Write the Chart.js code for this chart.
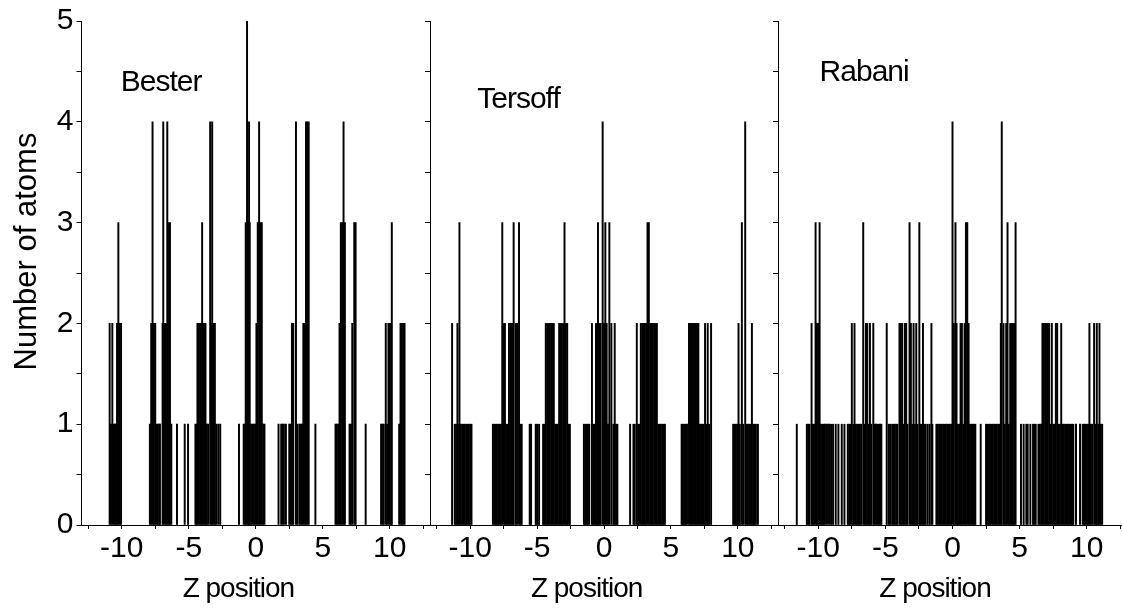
<!DOCTYPE html>
<html><head><meta charset="utf-8">
<script src="https://cdn.jsdelivr.net/npm/chart.js@4/dist/chart.umd.min.js"></script>
<style>
html,body{margin:0;padding:0;background:#fff;overflow:hidden;width:1122px;height:615px;}
canvas{position:absolute;top:0;}
</style></head><body>
<canvas id="c1"></canvas><canvas id="c2"></canvas><canvas id="c3"></canvas>
<script>
// ---- data (Z position bins, number of atoms) ----
const besterZ = [-10.9,-10.8,-10.7,-10.6,-10.5,-10.45,-10.35,-10.25,-10.15,-10.05,
 -7.9,-7.8,-7.7,-7.6,-7.5,-7.4,-7.3,-7.2,-7.15,-6.95,-6.9,-6.8,-6.7,-6.6,-6.5,-6.4,-6.3,
 -5.875,-5.3,-5.05,
 -4.5,-4.4,-4.35,-4.25,-4.15,-4.05,-4.0,-3.9,-3.8,-3.75,-3.65,-3.55,-3.4,-3.3,-3.25,-3.15,-3.05,-2.95,-2.8,-2.65,
 -1.25,-0.9,-0.8,-0.75,-0.65,-0.55,-0.5,-0.45,-0.35,-0.25,-0.15,-0.05,0.05,0.15,0.25,0.35,0.45,0.55,0.65,
 1.7,1.9,2.0,2.1,2.25,
 2.5,2.6,2.7,2.8,3.0,3.1,3.25,3.35,3.45,3.55,3.65,3.75,3.85,3.95,4.45,
 5.95,6.05,6.15,6.25,6.35,6.45,6.55,6.65,7.0,7.1,7.2,7.35,7.45,8.2,
 9.35,9.45,9.55,9.7,9.8,9.9,10.0,10.1,10.15,
 10.7,10.8,10.9,11.0,11.1];
const besterN = [2,1,2,1,1,1,2,3,2,2,
 1,2,4,2,2,1,1,1,1,2,4,2,2,4,3,3,1,
 1,1,1,
 1,1,2,2,2,2,3,2,2,2,1,1,4,2,4,2,2,1,1,1,
 1,1,1,3,5,3,4,3,1,1,1,1,2,3,4,3,3,1,1,
 1,1,1,1,1,
 1,1,2,2,4,1,1,1,1,2,2,4,4,4,1,
 1,1,1,2,3,3,4,3,1,1,2,3,3,1,
 1,1,1,2,1,2,2,2,3,
 1,2,2,2,2];

const tersoffZ = [-11.35,-11.15,-11.05,-10.95,-10.85,-10.8,-10.7,-10.6,-10.5,-10.4,-10.3,-10.2,-10.1,-10.0,-9.9,
 -8.3,-8.2,-8.1,-8.0,-7.9,-7.8,-7.7,-7.6,-7.5,-7.4,-7.3,-7.2,-7.1,-7.0,-6.9,-6.8,-6.75,-6.6,-6.5,-6.35,-6.25,-6.15,
 -5.55,-5.45,-5.1,-5.0,-4.85,
 -4.55,-4.45,-4.35,-4.25,-4.15,-4.05,-3.95,-3.85,-3.75,-3.65,-3.55,-3.45,-3.35,-3.25,-3.15,-3.05,-2.95,-2.85,-2.75,-2.65,-2.55,
 -1.5,-1.4,-1.3,-1.2,-1.1,-0.9,-0.8,-0.7,-0.6,-0.5,-0.45,-0.35,-0.25,-0.1,0.0,0.1,0.2,0.3,0.4,0.55,0.7,0.8,0.9,1.0,
 1.95,2.2,2.3,2.45,2.55,2.65,2.75,2.85,2.95,3.05,3.15,3.25,3.35,3.45,3.55,3.65,3.75,3.85,3.95,4.05,4.15,4.25,4.35,4.45,4.55,
 5.8,5.9,6.0,6.1,6.2,6.35,6.45,6.55,6.65,6.75,6.85,6.95,7.05,7.15,7.25,7.35,7.45,7.55,7.65,7.75,7.85,8.0,
 9.65,9.75,9.85,9.95,10.05,10.15,10.3,10.4,10.55,10.65,10.75,10.85,10.95,11.05,11.15,11.25,11.35,11.5];
const tersoffN = [2,1,1,2,1,3,1,1,1,1,1,1,1,1,1,
 1,1,1,1,1,1,1,3,2,2,1,1,2,2,2,2,3,2,2,3,1,1,
 1,1,1,1,1,
 1,1,2,2,2,2,2,2,2,1,1,1,2,2,2,2,3,2,2,1,1,
 1,1,1,1,1,2,1,1,2,2,3,2,2,4,2,3,2,1,3,2,1,2,1,1,
 1,1,1,2,1,1,2,2,2,2,2,3,3,2,2,2,2,2,2,1,1,1,1,1,1,
 1,1,1,1,1,2,2,2,2,2,2,2,2,1,1,1,1,2,1,2,1,2,
 1,1,1,1,2,1,3,1,4,1,1,1,1,2,1,1,1,1];

const rabaniZ = [-11.6,
 -10.85,-10.75,-10.65,-10.5,-10.4,-10.3,-10.2,-10.1,-10.0,-9.9,-9.8,-9.7,-9.6,-9.5,-9.35,-9.2,-9.05,-8.9,-8.7,-8.5,-8.25,-8.05,
 -7.8,-7.7,-7.6,-7.5,-7.4,-7.3,-7.2,-7.1,-7.0,-6.9,-6.8,-6.65,-6.55,-6.45,-6.35,-6.25,-6.15,-6.05,-5.9,-5.8,-5.7,-5.6,-5.5,-5.4,-5.3,
 -4.9,-4.75,-4.65,
 -4.5,-4.4,-4.3,-4.2,-4.1,-3.95,-3.85,-3.75,-3.65,-3.55,-3.45,-3.35,-3.2,-3.1,-3.0,-2.9,-2.8,-2.7,-2.6,-2.47,-2.4,-2.3,-2.2,-2.1,-2.0,-1.85,-1.7,-1.57,-1.5,
 -1.2,-1.1,-1.0,-0.9,-0.8,-0.7,-0.6,-0.5,-0.4,-0.3,-0.2,-0.1,0.0,0.1,0.22,0.3,0.4,0.5,0.6,0.7,0.8,0.9,1.0,1.1,1.2,1.3,1.4,1.5,1.6,1.7,
 2.1,
 2.5,2.6,2.7,2.8,2.9,3.0,3.1,3.2,3.3,3.4,3.5,3.6,3.67,3.8,3.9,4.0,4.1,4.2,4.3,4.4,4.5,4.6,4.7,
 5.1,5.3,5.5,5.6,5.8,6.0,6.1,6.2,6.4,6.5,6.6,6.7,6.8,6.9,7.0,7.1,7.2,7.3,7.4,7.5,7.6,7.7,7.8,7.9,8.0,8.1,8.2,8.3,8.4,8.5,8.6,8.7,8.8,8.9,9.0,9.2,9.5,
 9.7,9.8,9.9,10.0,10.1,10.2,10.3,10.4,10.55,10.65,10.75,10.85,10.95,11.05,11.15];
const rabaniN = [1,
 1,1,1,2,1,1,3,2,2,3,1,1,1,1,1,1,1,1,1,1,1,1,
 1,1,1,2,1,2,1,1,1,1,1,3,1,2,2,1,2,1,2,1,1,1,1,1,1,
 2,1,1,
 1,1,1,1,1,2,2,2,1,2,2,1,3,2,1,2,1,2,1,3,1,1,2,1,1,1,1,2,1,
 1,1,1,1,1,1,1,1,1,1,1,1,4,2,3,2,1,1,2,2,1,2,3,3,2,1,1,1,1,1,
 1,
 1,1,1,1,1,1,1,1,1,1,1,2,4,2,1,2,3,1,2,2,2,2,3,
 1,1,1,1,1,1,1,1,1,1,1,2,2,2,2,2,2,1,2,1,1,2,2,1,1,2,1,1,1,1,1,1,1,1,1,1,1,
 1,1,1,1,1,2,1,1,2,1,2,1,2,1,1];

const panelNames = ['Bester','Tersoff','Rabani'];
const xTickValues = [-12.5,-10,-7.5,-5,-2.5,0,2.5,5,7.5,10,12.5];
const xTickLabels = ['','-10','','-5','','0','','5','','10',''];
const yTickValues = [0,0.5,1,1.5,2,2.5,3,3.5,4,4.5,5];
const yTickLabels = ['0','','1','','2','','3','','4','','5'];
const xTitle = 'Z position';
const yTitle = 'Number of atoms';

// ---- layout / style ----
const FONT = "'Liberation Sans', Arial, Helvetica, sans-serif";
const CANVAS_H = 615, TOP = 20, XAXIS_H = 90;
const panels = [
  {id:'c1', left:0,   axisW:81.5, width:430, z:besterZ,  n:besterN,  name:panelNames[0], lx:-10.07, ly:4.31, yLabels:true},
  {id:'c2', left:420, axisW:10,   width:358, z:tersoffZ, n:tersoffN, name:panelNames[1], lx:-9.47,  ly:4.14, yLabels:false},
  {id:'c3', left:768, axisW:10,   width:359, z:rabaniZ,  n:rabaniN,  name:panelNames[2], lx:-9.9,   ly:4.40, yLabels:false}
];

const textPlugin = {
  id:'panelText',
  afterDraw(chart, args, o){
    const {ctx, scales} = chart;
    const xs = scales.x, ys = scales.y;
    ctx.save();
    ctx.fillStyle = '#000';
    if ('letterSpacing' in ctx) ctx.letterSpacing = '-1px';
    ctx.font = '30px ' + FONT;
    ctx.textAlign = 'left'; ctx.textBaseline = 'alphabetic';
    ctx.fillText(o.name, xs.getPixelForValue(o.lx), ys.getPixelForValue(o.ly));
    ctx.font = '28px ' + FONT;
    ctx.textAlign = 'center';
    ctx.fillText(xTitle, xs.getPixelForValue(-1.3), 597);
    if ('letterSpacing' in ctx) ctx.letterSpacing = '0px';
    if (o.yLabels){
      ctx.font = '31px ' + FONT;
      ctx.translate(36, 251.5);
      ctx.rotate(-Math.PI/2);
      ctx.textAlign = 'center'; ctx.textBaseline = 'alphabetic';
      ctx.fillText(yTitle, 0, 0);
    }
    ctx.restore();
  }
};

panels.forEach(p => {
  const cv = document.getElementById(p.id);
  cv.width = p.width; cv.height = CANVAS_H;
  cv.style.left = p.left + 'px';
  cv.style.width = p.width + 'px'; cv.style.height = CANVAS_H + 'px';
  const pts = p.z.map((z,i) => ({x:z, y:p.n[i]}));
  new Chart(cv, {
    type:'bar',
    data:{datasets:[{data:pts, backgroundColor:'#000', borderWidth:0, barThickness:1.3}]},
    options:{
      responsive:false, animation:false, devicePixelRatio:1,
      layout:{padding:{top:TOP, right:0, left:0, bottom:0}},
      plugins:{legend:{display:false}, tooltip:{enabled:false}, panelText:{name:p.name, lx:p.lx, ly:p.ly, yLabels:p.yLabels}},
      scales:{
        x:{type:'linear', min:-13, max:13, offset:false,
           afterBuildTicks(s){ s.ticks = xTickValues.map(v=>({value:v})); },
           afterFit(s){ s.height = XAXIS_H; },
           ticks:{autoSkip:false, maxRotation:0, padding:2, color:'#000', font:{family:FONT, size:30},
                  callback:(v,i)=> xTickLabels[i]},
           grid:{drawOnChartArea:false, drawTicks:true, tickLength:4, color:'#000', lineWidth:1, offset:false},
           border:{display:true, color:'#000', width:1}},
        y:{type:'linear', min:0, max:5,
           afterBuildTicks(s){ s.ticks = yTickValues.map(v=>({value:v})); },
           afterFit(s){ s.width = p.axisW; },
           ticks:{padding:3, color:'#000', font:{family:FONT, size:30},
                  callback:(v,i)=> p.yLabels ? yTickLabels[i] : ''},
           grid:{drawOnChartArea:false, drawTicks:true, tickLength:5, color:'#000', lineWidth:1},
           border:{display:true, color:'#000', width:1}}
      }
    },
    plugins:[textPlugin]
  });
});
</script>
</body></html>
